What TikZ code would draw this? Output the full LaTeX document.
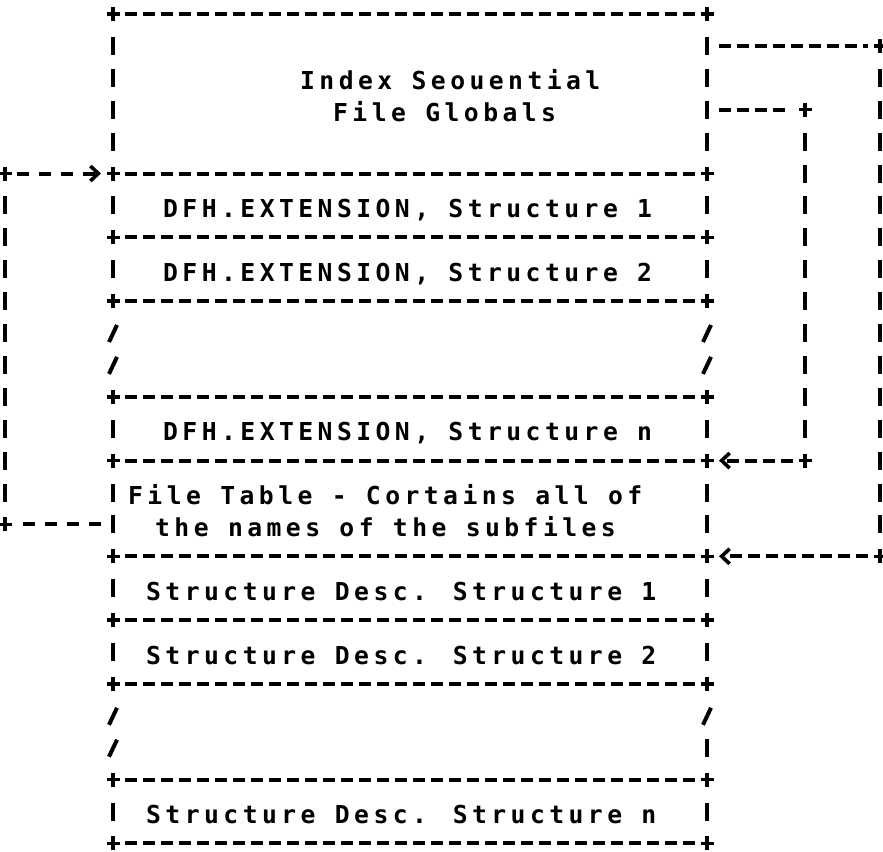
\documentclass[tikz,border=0pt]{standalone}
\usepackage{fontspec}
\newfontfamily\mono{DejaVu Sans Mono}[LetterSpace=18.0]
\usetikzlibrary{arrows.meta}
\begin{document}
\begin{tikzpicture}[x=1pt,y=-1pt,
  hd/.style={line width=4pt, dash pattern=on 12pt off 6pt, shorten <=12pt, shorten >=12pt},
  vd/.style={line width=4.2pt, dash pattern=on 18pt off 13.9pt, shorten <=22.9pt, shorten >=22.9pt},
  plusmark/.style={line width=3.4pt},
  slash/.style={line width=4pt},
  tip/.style={-{Straight Barb[length=8pt,width=15pt,line width=3.6pt]}},
  txt/.style={anchor=base west, inner sep=0pt, font=\mono\bfseries\fontsize{24.7}{30}\selectfont}]
\useasboundingbox (0,0) rectangle (883,851);
% ---------- corner coordinates of the stack ----------
\foreach \k in {0,...,26}{
  \coordinate (L\k) at (113,{14+31.9*\k});
  \coordinate (R\k) at (707,{14+31.9*\k});
}
\coordinate (CL5) at (5,{14+31.9*5});
\coordinate (CL16) at (5,{14+31.9*16});
\coordinate (CI3) at (805,{14+31.9*3});
\coordinate (CI14) at (805,{14+31.9*14});
\coordinate (CO1) at (880,{14+31.9*1});
\coordinate (CO17) at (880,{14+31.9*17});
% ---------- horizontal borders ----------
\foreach \k in {0,5,7,9,12,14,17,19,21,24,26}{
  \draw[hd] (L\k) -- (R\k);
}
% ---------- vertical borders ----------
\foreach \a/\b in {0/5,5/7,7/9,12/14,14/17,17/19,19/21,24/26}{
  \draw[vd] (L\a) -- (L\b);
  \draw[vd] (R\a) -- (R\b);
}
\draw[line width=4.2pt] ([yshift=-9pt]R23) -- ([yshift=9pt]R23);
% ---------- break marks ----------
\foreach \k in {10,11,22,23}{
  \draw[slash] ([shift={(-4,9)}]L\k) -- ([shift={(4,-8)}]L\k);
}
\foreach \k in {10,11,22}{
  \draw[slash] ([shift={(-4,9)}]R\k) -- ([shift={(4,-8)}]R\k);
}
% ---------- plus marks ----------
\foreach \p in {L0,R0,L5,R5,L7,R7,L9,R9,L12,R12,L14,R14,L17,R17,L19,R19,L21,R21,L24,R24,L26,R26,CL5,CL16,CI3,CI14,CO1,CO17}{
  \draw[plusmark] ([xshift=-6.5pt]\p) -- ([xshift=6.5pt]\p);
  \draw[plusmark] ([yshift=-7pt]\p) -- ([yshift=7pt]\p);
}
% ---------- texts ----------
\node[txt] (glob1) at (300,{14+31.9*2+12}) {Index Seouential};
\node[txt] (glob2) at (333,{14+31.9*3+12}) {File Globals};
\node[txt] (dfh1) at (163,{14+31.9*6+12}) {DFH.EXTENSION, Structure 1};
\node[txt] (dfh2) at (163,{14+31.9*8+12}) {DFH.EXTENSION, Structure 2};
\node[txt] (dfhn) at (163,{14+31.9*13+12}) {DFH.EXTENSION, Structure n};
\node[txt] (ft1) at (128,{14+31.9*15+12}) {File Table - Cortains all of};
\node[txt] (ft2) at (155,{14+31.9*16+12}) {the names of the subfiles};
\node[txt] (sd1) at (146,{14+31.9*18+12}) {Structure Desc. Structure 1};
\node[txt] (sd2) at (146,{14+31.9*20+12}) {Structure Desc. Structure 2};
\node[txt] (sdn) at (146,{14+31.9*25+12}) {Structure Desc. Structure n};
% ---------- connectors ----------
% file table -> DFH.EXTENSION structure 1
\draw[hd, dash pattern=on 12pt off 10pt] (L16) -- (CL16);
\draw[vd] (CL16) -- (CL5);
\draw[hd, dash pattern=on 12pt off 10pt, tip] (CL5) -- (L5);
% globals -> file table
\draw[hd, shorten >=16pt] (R3) -- (CI3);
\draw[vd] (CI3) -- (CI14);
\draw[hd, tip] (CI14) -- (R14);
% globals -> structure descriptions
\draw[hd] (R1) -- (CO1);
\draw[vd] (CO1) -- (CO17);
\draw[hd, tip] (CO17) -- (R17);
\end{tikzpicture}
\end{document}
